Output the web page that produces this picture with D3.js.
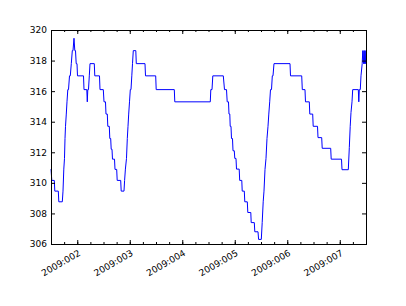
<!DOCTYPE html>
<html>
<head>
<meta charset="utf-8">
<script src="https://cdn.jsdelivr.net/npm/d3@7"></script>
<style>
	body { margin: 0; background: #fff; }
	svg text { font-family: "DejaVu Sans", sans-serif; font-size: 9px; fill: #000; }
</style>
</head>
<body>
<svg width="406" height="306"></svg>
<script>
// hours after 2009-01-01 00:00 and the reading at that moment
const hours = [
	12.0, 12.37, 13.51, 13.74, 15.34, 15.57, 17.17, 17.49, 17.85, 18.17, 18.4, 18.63, 18.99, 19.31, 19.68, 20.0,
	20.46, 20.82, 21.28, 21.74, 22.06, 22.51, 22.88, 23.2, 23.52, 23.89, 24.11, 26.86, 27.09, 28.37, 28.59, 28.82,
	29.14, 29.51, 29.83, 31.79, 32.02, 34.17, 34.4, 35.91, 36.23, 36.91, 37.14, 37.74, 37.97, 38.65, 38.88, 39.29,
	39.52, 39.89, 40.11, 41.03, 41.26, 42.03, 42.26, 43.86, 44.09, 45.37, 45.65, 46.01, 46.51, 46.88, 47.2, 47.52,
	47.89, 48.25, 48.57, 48.94, 49.26, 49.62, 50.77, 50.99, 54.97, 55.2, 59.86, 60.09, 68.37, 68.59, 84.82, 85.05,
	85.6, 85.97, 90.77, 91.31, 92.23, 92.55, 93.14, 93.37, 93.74, 93.92, 94.29, 94.51, 94.97, 95.2, 95.79, 96.02,
	96.57, 96.8, 98.03, 98.26, 99.22, 99.41, 100.37, 100.59, 101.74, 101.97, 103.34, 103.52, 104.94, 105.17, 106.63, 106.9,
	108.14, 108.55, 109.0, 109.37, 109.83, 110.29, 110.74, 111.2, 111.57, 111.98, 112.34, 112.8, 113.17, 113.49, 113.94, 121.26,
	121.49, 126.61, 126.88, 128.11, 128.34, 130.08, 130.31, 131.63, 131.86, 133.83, 134.06, 135.75, 135.98, 139.86, 140.09, 144.8,
	145.03, 147.91, 148.37, 148.78, 149.14, 149.6, 149.92, 152.48, 152.71, 152.94, 153.39, 153.71, 154.26, 154.53, 154.86, 155.09,
	155.31, 155.54, 155.77, 156.0
];
const values = [
	310.9, 310.16, 310.16, 309.46, 309.46, 308.76, 308.76, 309.46, 310.9, 311.6, 312.9, 313.7, 314.5, 315.3, 316.1, 316.1,
	317.0, 317.0, 317.8, 318.65, 318.65, 319.46, 318.65, 318.65, 317.8, 317.8, 317.0, 317.0, 316.1, 316.1, 315.3, 316.1,
	316.1, 317.0, 317.8, 317.8, 317.0, 317.0, 316.1, 316.1, 315.3, 315.3, 314.5, 314.5, 313.7, 313.7, 312.9, 312.9,
	312.2, 312.2, 311.55, 311.55, 310.88, 310.88, 310.16, 310.16, 309.46, 309.46, 310.16, 310.9, 311.6, 312.9, 313.7, 314.5,
	315.3, 316.1, 316.1, 317.0, 317.8, 318.65, 318.65, 317.8, 317.8, 317.0, 317.0, 316.1, 316.1, 315.3, 315.3, 316.1,
	316.1, 317.0, 317.0, 316.1, 316.1, 315.3, 315.3, 314.5, 314.5, 313.7, 313.7, 312.9, 312.9, 312.1, 312.1, 311.6,
	311.6, 310.9, 310.9, 310.16, 310.16, 309.46, 309.46, 308.76, 308.76, 308.06, 308.06, 307.4, 307.4, 306.8, 306.8, 306.3,
	306.3, 307.4, 308.76, 309.46, 310.88, 311.6, 312.9, 313.7, 314.5, 315.3, 316.1, 316.1, 317.0, 317.0, 317.8, 317.8,
	317.0, 317.0, 316.1, 316.1, 315.3, 315.3, 314.5, 314.5, 313.7, 313.7, 312.96, 312.96, 312.26, 312.26, 311.55, 311.55,
	310.86, 310.86, 312.3, 313.7, 314.6, 315.3, 316.1, 316.1, 315.3, 316.1, 316.1, 317.0, 317.8, 318.65, 317.8, 318.65,
	317.8, 318.65, 317.8, 318.65
];
const yTicks = [306, 308, 310, 312, 314, 316, 318, 320];

const t0 = new Date(2009, 0, 1);
const data = hours.map((h, i) => ({ date: new Date(t0.getTime() + h * 3600e3), v: values[i] }));

const pLeft = 51, pRight = 366, pTop = 30, pBottom = 244;
const svg = d3.select('svg');

const x = d3.scaleTime()
	.domain(d3.extent(data, d => d.date))
	.range([pLeft, pRight]);
const y = d3.scaleLinear()
	.domain([306, 320])
	.range([pBottom, pTop]);

const majors = d3.timeDay.range(x.domain()[0], x.domain()[1]);
const minors = d3.timeHour.every(6).range(x.domain()[0], x.domain()[1]);
const fmt = d3.timeFormat('%Y:%j');

// line
const line = d3.line()
	.x(d => x(d.date))
	.y(d => y(d.v));
svg.append('path')
	.datum(data)
	.attr('d', line)
	.attr('fill', 'none')
	.attr('stroke', '#0000ff')
	.attr('stroke-width', 1);

// ticks (inward, all four sides)
function ticks(axis, tr) {
	const g = svg.append('g').attr('transform', tr).call(axis);
	g.select('.domain').remove();
	g.selectAll('line').attr('stroke', '#000');
	return g;
}
ticks(d3.axisBottom(x).tickValues(minors).tickSize(-2).tickFormat(''), `translate(0,${pBottom})`);
ticks(d3.axisTop(x).tickValues(minors).tickSize(-2).tickFormat(''), `translate(0,${pTop})`);
ticks(d3.axisTop(x).tickValues(majors).tickSize(-4).tickFormat(''), `translate(0,${pTop})`);
const xb = ticks(d3.axisBottom(x).tickValues(majors).tickSize(-4).tickFormat(fmt), `translate(0,${pBottom})`);
xb.selectAll('text')
	.attr('y', 0)
	.attr('dy', '0.75em')
	.attr('text-anchor', 'end')
	.attr('transform', 'translate(0,5) rotate(-30)');

ticks(d3.axisLeft(y).tickValues(yTicks).tickSize(-4).tickPadding(4), `translate(${pLeft},0)`);
ticks(d3.axisRight(y).tickValues(yTicks).tickSize(-4).tickFormat(''), `translate(${pRight},0)`);

// frame
svg.append('rect')
	.attr('x', pLeft + 0.5)
	.attr('y', pTop + 0.5)
	.attr('width', pRight - pLeft)
	.attr('height', pBottom - pTop)
	.attr('fill', 'none')
	.attr('stroke', '#000')
	.attr('stroke-width', 1);
</script>
</body>
</html>
